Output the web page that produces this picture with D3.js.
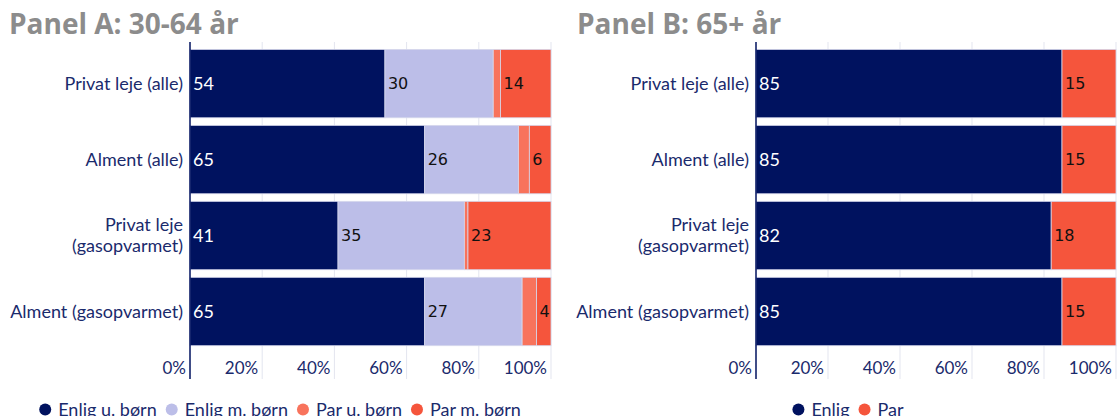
<!DOCTYPE html>
<html>
<head>
<meta charset="utf-8">
<script src="https://cdn.jsdelivr.net/npm/d3@7"></script>
<style>
  body { margin: 0; background: #fff; }
  svg text { font-family: "Lato", "Noto Sans", sans-serif; }
</style>
</head>
<body>
<svg id="chart" width="1117" height="416"></svg>
<script>
// Data
const categories = ["Privat leje (alle)", "Alment (alle)", "Privat leje\n(gasopvarmet)", "Alment (gasopvarmet)"];
const xTicks = [0, 20, 40, 60, 80, 100];

// Panel A: 30-64 år
const seriesA = ["Enlig u. børn", "Enlig m. børn", "Par u. børn", "Par m. børn"];
const enligUBorn = [54, 65, 41, 65];
const enligMBorn = [30, 26, 35, 27];
const parUBorn = [2, 3, 1, 4];
const parMBorn = [14, 6, 23, 4];

// Panel B: 65+ år
const seriesB = ["Enlig", "Par"];
const enligB = [85, 85, 82, 85];
const parB = [15, 15, 18, 15];

const navy = "#00125f";
const labelColor = "#1a2a6c";

const svg = d3.select("#chart");

function drawPanel(opts) {
    const g = svg.append("g");

    // title
    g.append("text")
        .attr("x", opts.titleX).attr("y", 33.5)
        .style("font-family", "'Open Sans', sans-serif")
        .style("font-weight", "bold")
        .style("font-size", "28px")
        .attr("fill", "#8c8c8c")
        .text(opts.title);

    const x = d3.scaleLinear().domain([0, 100]).range(opts.xRange);
    const y = d3.scaleBand().domain(categories).range([45.6, 349.5])
        .paddingInner(0.1).paddingOuter(0.05);

    // gridlines
    g.selectAll("line.grid")
        .data(xTicks.slice(1))
        .enter().append("line")
        .attr("class", "grid")
        .attr("x1", d => x(d)).attr("x2", d => x(d))
        .attr("y1", 42).attr("y2", 379)
        .attr("stroke", "#e3e5ef").attr("stroke-width", 1);

    // stacked rows
    const rows = categories.map((c, i) => {
        const r = { cat: c };
        opts.series.forEach((s, j) => r[s] = opts.values[j][i]);
        return r;
    });
    const stacked = d3.stack().keys(opts.series)(rows);

    const layer = g.selectAll("g.layer")
        .data(stacked)
        .enter().append("g")
        .attr("class", "layer")
        .attr("fill", (d, j) => opts.colors[j]);

    layer.selectAll("rect")
        .data(d => d)
        .enter().append("rect")
        .attr("x", d => x(d[0]))
        .attr("y", d => y(d.data.cat))
        .attr("width", d => x(d[1]) - x(d[0]))
        .attr("height", y.bandwidth())
        .attr("stroke", "#d6d8ec").attr("stroke-width", 0.8);

    // value labels: white on navy, dark on the rest
    stacked.forEach((s, j) => {
        if (!opts.showLabel[j]) return;
        g.selectAll(null)
            .data(s)
            .enter().append("text")
            .attr("x", d => x(d[0]) + 3)
            .attr("y", d => y(d.data.cat) + y.bandwidth() / 2)
            .attr("dy", "0.35em")
            .style("font-family", j === 0 ? "Lato, sans-serif" : "'DejaVu Sans', sans-serif")
            .style("font-size", j === 0 ? "18px" : "16px")
            .attr("fill", j === 0 ? "#fff" : "#111")
            .text(d => Math.round(d[1] - d[0]));
    });

    // axis line
    g.append("line")
        .attr("x1", x(0)).attr("x2", x(0))
        .attr("y1", 42).attr("y2", 379)
        .attr("stroke", navy).attr("stroke-width", 1.5);

    // category labels
    categories.forEach(c => {
        const lines = c.split("\n");
        const cy = y(c) + y.bandwidth() / 2;
        const t = g.append("text")
            .attr("x", x(0) - 7)
            .attr("y", cy - (lines.length - 1) * 10.5)
            .attr("text-anchor", "end")
            .style("font-size", "18px")
            .attr("fill", labelColor);
        lines.forEach((l, k) => {
            t.append("tspan")
                .attr("x", x(0) - 7)
                .attr("dy", k === 0 ? "0.35em" : "21px")
                .text(l);
        });
    });

    // tick labels
    g.selectAll("text.tick")
        .data(xTicks)
        .enter().append("text")
        .attr("class", "tick")
        .attr("x", d => x(d) - 4)
        .attr("y", 368.5)
        .attr("dy", "0.35em")
        .attr("text-anchor", "end")
        .style("font-size", "17px")
        .attr("fill", labelColor)
        .text(d => d + "%");

    // legend
    const leg = g.append("g");
    let cx = 0;
    opts.series.forEach((s, j) => {
        leg.append("circle")
            .attr("cx", cx + 6).attr("cy", 409.5).attr("r", 6)
            .attr("fill", opts.colors[j]);
        const t = leg.append("text")
            .attr("x", cx + 19).attr("y", 409.5).attr("dy", "0.35em")
            .style("font-size", "18px")
            .attr("fill", labelColor)
            .text(s);
        cx += 19 + t.node().getComputedTextLength() + 9;
    });
    leg.attr("transform", `translate(${opts.legendCenter - (cx - 9) / 2},0)`);
}

drawPanel({
    title: "Panel A: 30-64 år",
    titleX: 9,
    xRange: [190, 551],
    series: seriesA,
    values: [enligUBorn, enligMBorn, parUBorn, parMBorn],
    colors: [navy, "#bcbee8", "#f8735c", "#f5553c"],
    showLabel: [true, true, false, true],
    legendCenter: 280
});

drawPanel({
    title: "Panel B: 65+ år",
    titleX: 577,
    xRange: [756, 1116],
    series: seriesB,
    values: [enligB, parB],
    colors: [navy, "#f5553c"],
    showLabel: [true, true],
    legendCenter: 848
});
</script>
</body>
</html>
